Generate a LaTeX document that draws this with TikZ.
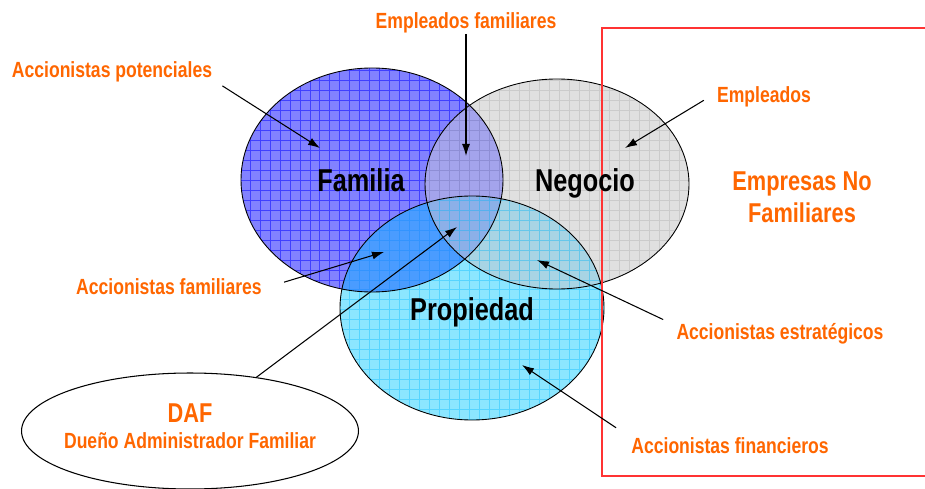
\documentclass[tikz,border=0pt]{standalone}
\usepackage{fontspec}
\setmainfont{Liberation Sans}[FakeStretch=0.8]
\usetikzlibrary{arrows.meta,shapes.geometric}
\definecolor{naranja}{HTML}{FF6600}
\definecolor{rojo}{HTML}{FF3333}
\definecolor{famcol}{HTML}{8282FF}
\definecolor{negcol}{HTML}{E0E0E0}
\definecolor{procol}{HTML}{8CE6FF}
\definecolor{fncol}{HTML}{A4A4EC}
\definecolor{fpcol}{HTML}{4A9CFF}
\definecolor{npcol}{HTML}{A8D4E4}
\definecolor{fnpcol}{HTML}{8CB0E8}
\definecolor{famgrid}{HTML}{2A2AFF}
\definecolor{neggrid}{HTML}{BDBDBD}
\definecolor{progrid}{HTML}{33C8FF}

\begin{document}
\begin{tikzpicture}[x=0.02cm,y=-0.02cm,
    pFam/.style={insert path={(372,180) ellipse [x radius=131,y radius=112]}},
    pNeg/.style={insert path={(557,184) ellipse [x radius=132,y radius=105]}},
    pPro/.style={insert path={(472,308) ellipse [x radius=132,y radius=112]}},
    rejilla/.style={step=0.2cm,line width=0.5pt,draw opacity=0.6},
    lbl/.style={text=naranja,font=\bfseries\fontsize{12.5}{14}\selectfont,inner sep=0pt,anchor=base},
    big/.style={font=\bfseries\fontsize{18}{20}\selectfont,inner sep=0pt,anchor=base},
    arr/.style={-{Latex[length=2.4mm,width=1.6mm]},line width=0.6pt}]
    \useasboundingbox (0,0) rectangle (925,489);

    \fill[famcol,pFam];
    \fill[negcol,pNeg];
    \fill[procol,pPro];
    \begin{scope}
        \clip[pFam];
        \fill[fncol,pNeg];
        \fill[fpcol,pPro];
    \end{scope}
    \begin{scope}
        \clip[pNeg];
        \fill[npcol,pPro];
    \end{scope}
    \begin{scope}
        \clip[pFam];
        \clip[pNeg];
        \fill[fnpcol,pPro];
    \end{scope}
    \begin{scope}
        \clip[pFam];
        \draw[rejilla,famgrid,draw opacity=0.75] (230,60) grid (510,300);
    \end{scope}
    \begin{scope}
        \clip[pNeg];
        \draw[rejilla,neggrid] (420,70) grid (700,300);
    \end{scope}
    \begin{scope}
        \clip[pPro];
        \draw[rejilla,progrid] (330,190) grid (610,430);
    \end{scope}
    \draw[line width=0.5pt,pFam];
    \draw[line width=0.5pt,pNeg];
    \draw[line width=0.5pt,pPro];

    \draw[rojo,line width=0.6pt] (925,28) -- (602,28) -- (602,476) -- (925,476);

    \node[big] (fam) at (361,192) {Familia};
    \node[big] (neg) at (585,192) {Negocio};
    \node[big] (pro) at (472,320) {Propiedad};

    \node[lbl] (empfam) at (466,29) {Empleados familiares};
    \node[lbl] (pot) at (112,78) {Accionistas potenciales};
    \node[lbl] (emp) at (764,103) {Empleados};
    \node[lbl] (accfam) at (169,295) {Accionistas familiares};
    \node[lbl] (est) at (780,339) {Accionistas estratégicos};
    \node[lbl] (fin) at (730,453) {Accionistas financieros};
    \node[text=naranja,font=\bfseries\fontsize{15.5}{18.1}\selectfont,inner sep=0pt,align=center] (nofam) at (802,197) {Empresas No\\Familiares};

    \node[draw,ellipse,line width=0.6pt,minimum width=6.74cm,minimum height=2.32cm] (daf) at (190,431) {};
    \node[lbl,font=\bfseries\fontsize{15.5}{18}\selectfont] (daft) at (190,422) {DAF};
    \node[lbl] (dueno) at (190,448) {Dueño Administrador Familiar};

    \coordinate (tEmpFam) at (466,156);
    \coordinate (tPot) at (320,148);
    \coordinate (tEmp) at (625,148);
    \coordinate (tAccFam) at (384,252);
    \coordinate (tDAF) at (457,227);
    \coordinate (tEst) at (537,260);
    \coordinate (tFin) at (522,365);

    \draw[arr] (empfam.south) -- (tEmpFam);
    \draw[arr] (pot.south east) ++(10,3) -- (tPot);
    \draw[arr] (emp.west) ++(-13,3) -- (tEmp);
    \draw[arr] (accfam.east) ++(22,-5) -- (tAccFam);
    \draw[arr] (daf.39) -- (tDAF);
    \draw[arr] (est.north west) ++(-13,-3) -- (tEst);
    \draw[arr] (fin.north west) ++(-15,-9) -- (tFin);
\end{tikzpicture}
\end{document}
